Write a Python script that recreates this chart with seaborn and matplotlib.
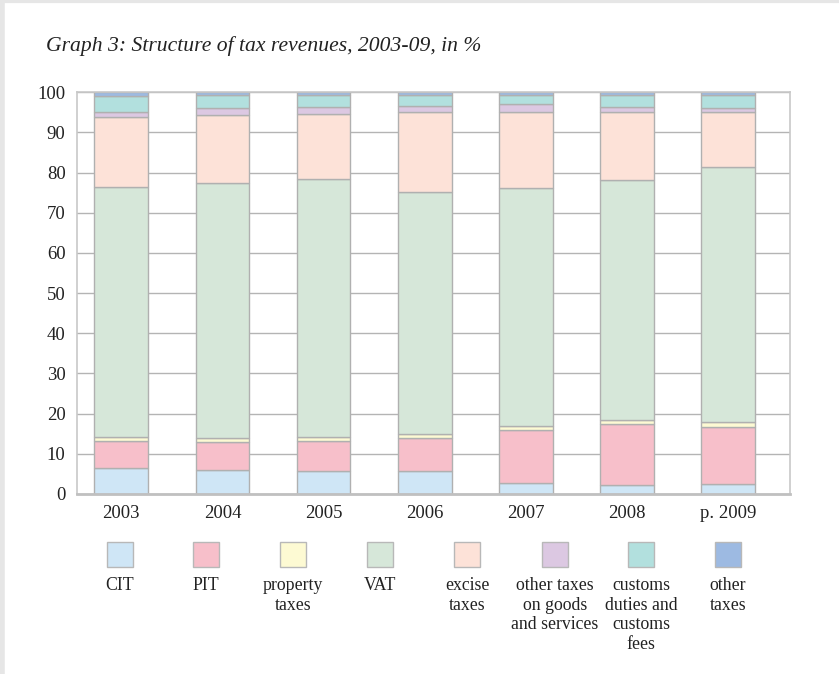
import matplotlib
matplotlib.use("Agg")
import matplotlib.pyplot as plt
import seaborn as sns
import pandas as pd
import numpy as np
from matplotlib.patches import Rectangle

years = ["2003", "2004", "2005", "2006", "2007", "2008", "p. 2009"]
categories = ["CIT", "PIT", "property\ntaxes", "VAT", "excise\ntaxes",
              "other taxes\non goods\nand services", "customs\nduties and\ncustoms\nfees",
              "other\ntaxes"]
cit = [6.4, 6.0, 5.7, 5.7, 2.7, 2.2, 2.4]
pit = [6.7, 6.9, 7.4, 8.2, 13.2, 15.2, 14.4]
prop = [1.1, 1.1, 1.1, 1.0, 1.1, 0.9, 1.0]
vat = [62.2, 63.3, 64.2, 60.2, 59.1, 59.9, 63.5]
excise = [17.4, 17.1, 16.2, 19.9, 18.9, 16.8, 13.9]
other_goods = [1.2, 1.6, 1.7, 1.6, 2.1, 1.4, 0.9]
customs = [4.2, 3.3, 3.0, 2.7, 2.2, 2.9, 3.2]
other = [0.8, 0.7, 0.7, 0.7, 0.7, 0.7, 0.7]

series = [cit, pit, prop, vat, excise, other_goods, customs, other]
colors = ["#cfe6f6", "#f7bfca", "#fdfad3", "#d6e7d9", "#fde2d8",
          "#dcc8e2", "#b2e0de", "#9dbae2"]

rows = []
for cat, vals in zip(categories, series):
    for y, v in zip(years, vals):
        rows.append({"year": y, "category": cat, "value": v})
df = pd.DataFrame(rows)

sns.set_style("white")
plt.rcParams['font.family'] = ['Liberation Serif', 'DejaVu Serif']

fig = plt.figure(figsize=(8.39, 6.74), dpi=100)
ax = fig.add_axes([76.7 / 839, 1 - 494 / 674, (790 - 76.7) / 839, (494 - 92.3) / 674])

ax.set_axisbelow(True)
ax.yaxis.grid(True, color="#b4b4b4", linewidth=1.0)

bottom = np.zeros(len(years))
for cat, col in zip(categories, colors):
    sub = df[df["category"] == cat].set_index("year").loc[years]
    vals = sub["value"].to_numpy()
    ax.bar(np.arange(len(years)), vals, bottom=bottom, width=0.53,
           color=col, edgecolor="#b0b0b0", linewidth=1.0, zorder=2)
    bottom = bottom + vals

ax.set_xlim(-0.44, 6.61)
ax.set_ylim(0, 100)
ax.set_yticks(range(0, 101, 10))
ax.set_xticks(np.arange(len(years)))
ax.set_xticklabels(years)
ax.tick_params(axis="both", length=0, labelsize=13.5, colors="#222222")
ax.tick_params(axis="y", pad=8)
ax.tick_params(axis="x", pad=8)
for s in ax.spines.values():
    s.set_color("#c8c8c8")
    s.set_linewidth(1.2)
ax.spines["bottom"].set_color("#c0c0c0")
ax.spines["bottom"].set_linewidth(2.0)
ax.set_xlabel("")
ax.set_ylabel("")

fig.text(46 / 839, 1 - 46 / 674, "Graph 3: Structure of tax revenues, 2003-09, in %",
         fontsize=15.6, style="italic", ha="left", va="center", color="#222222")

# legend
leg_x = [120, 206, 293, 380, 467, 555, 641, 728]
for xc, cat, col in zip(leg_x, categories, colors):
    w, h = 26, 25
    r = Rectangle(((xc - w / 2) / 839, 1 - 567 / 674), w / 839, h / 674,
                  transform=fig.transFigure, facecolor=col, edgecolor="#b8b8b8",
                  linewidth=1.0)
    fig.add_artist(r)
    fig.text(xc / 839, 1 - 577 / 674, cat, ha="center", va="top",
             fontsize=12.8, linespacing=1.2, color="#222222")

# faint page border top/left
fig.add_artist(plt.Line2D([0, 1], [1 - 1 / 674, 1 - 1 / 674], transform=fig.transFigure,
                          color="#e6e6e6", linewidth=3))
fig.add_artist(plt.Line2D([2 / 839, 2 / 839], [0, 1], transform=fig.transFigure,
                          color="#e6e6e6", linewidth=4))

fig.savefig("out.png", dpi=100, facecolor="white")
